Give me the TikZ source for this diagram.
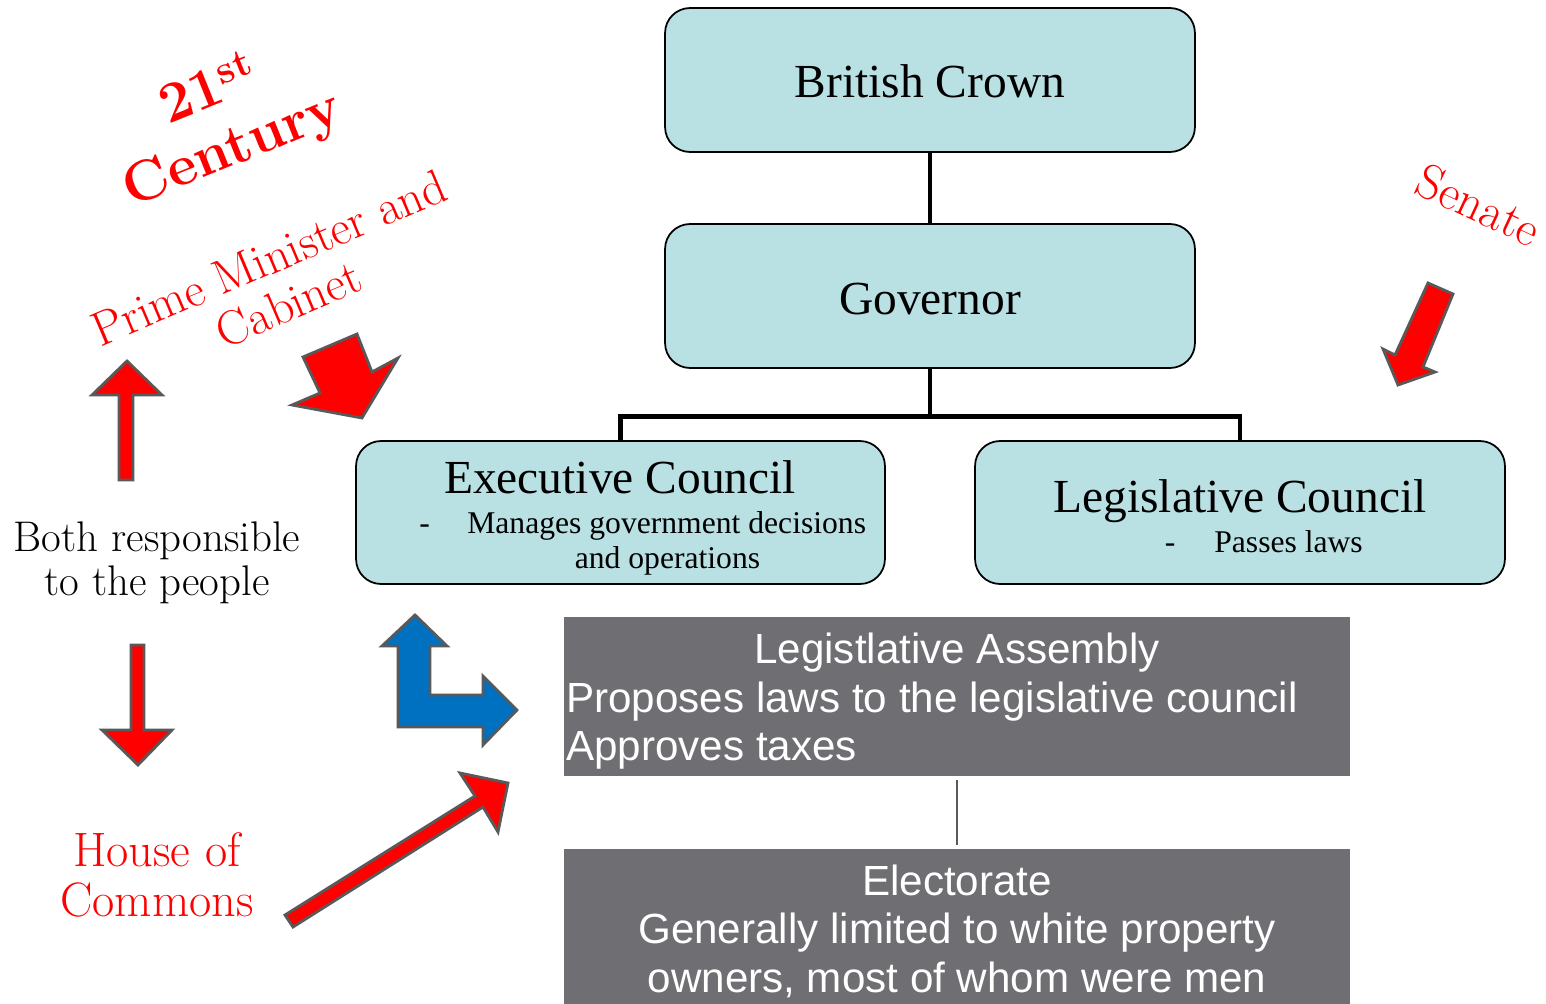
\documentclass[tikz,border=0pt]{standalone}
\usepackage{fontspec}
\newfontfamily\boxfont{Liberation Serif}
\newfontfamily\panelfont{Liberation Sans}
\definecolor{boxteal}{RGB}{185,224,227}
\definecolor{panelgray}{RGB}{111,110,115}
\definecolor{arrowedge}{RGB}{89,89,89}
\definecolor{arrowblue}{RGB}{0,112,192}

\begin{document}
\begin{tikzpicture}[x=0.02cm, y=-0.02cm,
  council/.style={draw, line width=1pt, fill=boxteal, rounded corners=0.5cm, minimum width=10.6cm, minimum height=2.88cm},
  panel/.style={fill=panelgray, minimum width=15.72cm, inner sep=0pt},
  title/.style={font=\boxfont\fontsize{27}{32}\selectfont, anchor=base, inner sep=0pt},
  note/.style={font=\boxfont\fontsize{18}{21}\selectfont, anchor=base, inner sep=0pt},
  paneltext/.style={font=\panelfont\fontsize{24}{28}\selectfont, text=white, anchor=base, inner sep=0pt},
  redtext/.style={text=red, align=center, inner sep=0pt},
  link/.style={line width=2.8pt},
  blockarrow/.style={draw=arrowedge, line width=1.6pt, fill=red}]

\useasboundingbox (0,0) rectangle (1546,1004);

% crown -> governor -> councils
\node[council] (crown) at (930,80) {};
\node[council] (gov) at (930,296) {};
\node[council, minimum width=10.58cm, minimum height=2.86cm] (exec) at (620.5,512.5) {};
\node[council, minimum height=2.86cm] (legis) at (1240,512.5) {};

\node[title] (crowntext) at (930,97) {British Crown};
\node[title] (govtext) at (930,314) {Governor};
\node[title] (exectext) at (620,493) {Executive Council};
\node[note, anchor=base west] (execnote) at (467,533) {\llap{-\hspace{0.75cm}}Manages government decisions};
\node[note] (execnote2) at (667.5,568) {and operations};
\node[title] (legistext) at (1240,512) {Legislative Council};
\node[note, anchor=base west] (legisnote) at (1214,552) {\llap{-\hspace{0.78cm}}Passes laws};

\draw[link] (crown) -- (gov);
\draw[link] (gov.south) -- ++(0,48) coordinate (split);
\draw[link, line join=miter] (exec.north) |- (split) -| (legis.north);

% assembly and electorate
\node[panel, minimum height=3.18cm] (assembly) at (957,696.5) {};
\node[panel, minimum height=3.1cm] (elect) at (957,926.5) {};
\draw[arrowedge, line width=1.1pt, shorten <=0.08cm, shorten >=0.08cm] (assembly) -- (elect);

\node[paneltext] (asmtitle) at (957,663) {Legistlative Assembly};
\node[paneltext, anchor=base west] (asmline1) at (566,712) {Proposes laws to the legislative council};
\node[paneltext, anchor=base west] (asmline2) at (566,760) {Approves taxes};
\node[paneltext] (electtitle) at (957,895) {Electorate};
\node[paneltext] (electline1) at (957,943) {Generally limited to white property};
\node[paneltext] (electline2) at (957,992) {owners, most of whom were men};

% red notes on the left and right
\node[redtext, rotate=22, font=\bfseries\fontsize{32.5}{36}\selectfont] (century) at (221,121) {21\textsuperscript{st}\\Century};
\node[redtext, rotate=23, font=\fontsize{27.6}{28.5}\selectfont] (cabinet) at (279,281) {Prime Minister and\\Cabinet};
\node[redtext, rotate=-25, font=\fontsize{28}{28}\selectfont] (senate) at (1479,205) {Senate};
\node[align=center, inner sep=0pt, font=\fontsize{24.4}{25}\selectfont] (people) at (157,563) {Both responsible\\to the people};
\node[redtext, font=\fontsize{27.5}{28.5}\selectfont] (commons) at (157,875) {House of\\Commons};

% block arrows
\filldraw[blockarrow] (119,480) -- (119,395) -- (92,395) -- (127,361) -- (162,395) -- (133,395) -- (133,480) -- cycle;
\filldraw[blockarrow] (131,645) -- (144,645) -- (144,730) -- (172,730) -- (138,765) -- (102,730) -- (131,730) -- cycle;
\filldraw[blockarrow] (303,357) -- (357,334) -- (372,372) -- (398,358) -- (362,418) -- (292,405) -- (320,393) -- cycle;
\filldraw[blockarrow] (285,915) -- (475,796) -- (460,773) -- (508,783) -- (498,832) -- (483,807) -- (293,927) -- cycle;
\filldraw[blockarrow] (1428,283) -- (1453,294) -- (1423,367) -- (1435,372) -- (1398,385) -- (1383,349) -- (1395,355) -- cycle;
\filldraw[blockarrow, fill=arrowblue] (415,615) -- (447,646) -- (430,646) -- (430,695) -- (483,695) -- (483,676) -- (517,710) -- (483,745) -- (483,727) -- (398,727) -- (398,646) -- (382,646) -- cycle;
\end{tikzpicture}
\end{document}
